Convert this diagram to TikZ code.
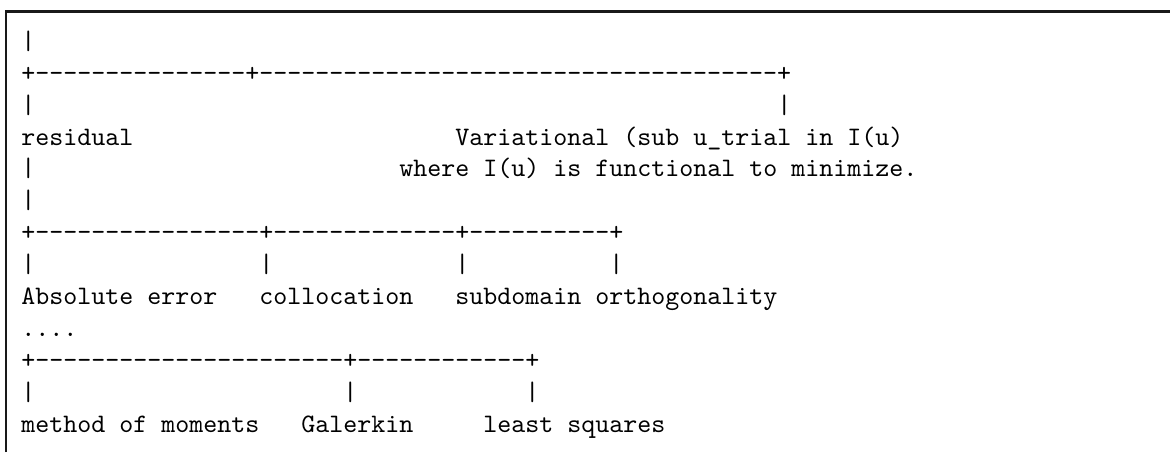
\documentclass[tikz,border=0pt]{standalone}
\usepackage{fontspec}
\setmonofont{lmmono10-regular.otf}
\ExplSyntaxOn
\cs_new:Npn \repchar #1#2 { \prg_replicate:nn {#1} {#2} }
\ExplSyntaxOff
\begin{document}
\begin{tikzpicture}[x=0.5pt,y=-0.5pt,
  txt/.style={anchor=base west, inner sep=0pt, font=\ttfamily\fontsize{13.33}{16}\selectfont, text=black},
  frameline/.style={line width=1.2pt, draw=black!90}]
\useasboundingbox (0,0) rectangle (1170,452);
\draw[frameline] (6.2,452) |- (1170,11.5);
% row 0
\node[txt] (r0a) at (21,49.3) {|};
% row 1
\node[txt] (r1a) at (21,81.2) {+\repchar{15}{-}+\repchar{37}{-}+};
% row 2
\node[txt] (r2a) at (21,113.1) {|};
\node[txt] (r2b) at (777,113.1) {|};
% row 3
\node[txt] (residual) at (21,145) {residual};
\node[txt] (variational) at (455,145) {Variational (sub u\_trial in I(u)};
% row 4
\node[txt] (r4a) at (21,176.9) {|};
\node[txt] (where) at (399,176.9) {where I(u) is functional to minimize.};
% row 5
\node[txt] (r5a) at (21,208.8) {|};
% row 6
\node[txt] (r6a) at (21,240.7) {+\repchar{16}{-}+\repchar{13}{-}+\repchar{10}{-}+};
% row 7
\node[txt] (r7a) at (21,272.6) {|};
\node[txt] (r7b) at (259,272.6) {|};
\node[txt] (r7c) at (455,272.6) {|};
\node[txt] (r7d) at (609,272.6) {|};
% row 8
\node[txt] (abserr) at (21,304.5) {Absolute error};
\node[txt] (colloc) at (259,304.5) {collocation};
\node[txt] (subdom) at (455,304.5) {subdomain};
\node[txt] (ortho) at (595,304.5) {orthogonality};
% row 9
\node[txt] (dots) at (21,336.4) {....};
% row 10
\node[txt] (r10a) at (21,368.3) {+\repchar{22}{-}+\repchar{12}{-}+};
% row 11
\node[txt] (r11a) at (21,400.2) {|};
\node[txt] (r11b) at (343,400.2) {|};
\node[txt] (r11c) at (525,400.2) {|};
% row 12
\node[txt] (mom) at (21,432.1) {method of moments};
\node[txt] (galerkin) at (301,432.1) {Galerkin};
\node[txt] (lsq) at (483,432.1) {least squares};
\end{tikzpicture}
\end{document}
